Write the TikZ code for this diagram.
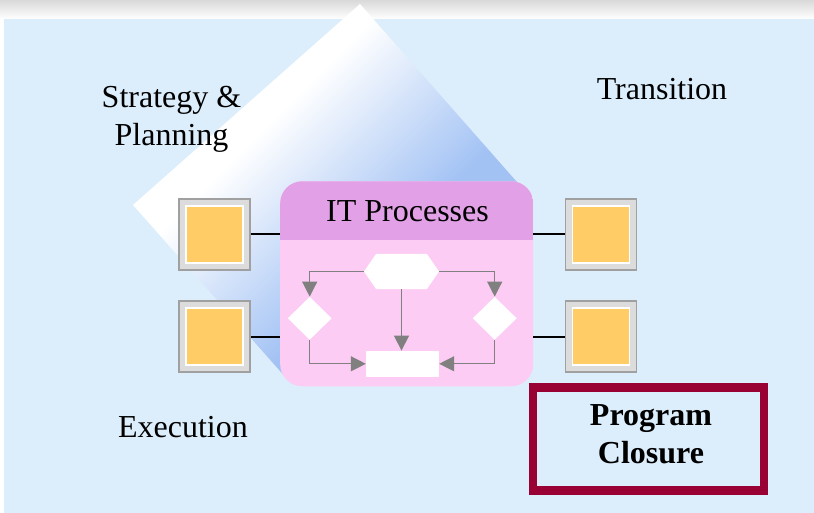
\documentclass[tikz,border=0pt]{standalone}
\usepackage{fontspec}
\setmainfont{Liberation Serif}
\usetikzlibrary{shapes.geometric,shapes.symbols,arrows.meta}

\definecolor{bgblue}{RGB}{220,238,252}
\definecolor{diagblue}{RGB}{162,194,244}
\definecolor{hdrpurple}{RGB}{226,160,230}
\definecolor{bodypink}{RGB}{252,204,244}
\definecolor{tileorange}{RGB}{255,204,102}
\definecolor{tilegray}{RGB}{220,220,220}
\definecolor{edgegray}{RGB}{160,160,160}
\definecolor{flowgray}{RGB}{128,128,128}
\definecolor{closured}{RGB}{153,0,51}

\pgfdeclareverticalshading{diagfade}{100bp}{color(0bp)=(diagblue); color(39bp)=(diagblue); color(62bp)=(white); color(100bp)=(white)}

\tikzset{
	label text/.style={font=\fontsize{32}{37.5}\selectfont, inner sep=0pt},
	tile/.style={draw=edgegray, fill=tilegray, line width=1.3pt, minimum size=71pt, inner sep=0pt},
	tile core/.style={draw=white, fill=tileorange, line width=1.2pt, minimum size=57pt, inner sep=0pt},
	itbox/.style={fill=bodypink, rounded corners=22pt, minimum width=253pt, minimum height=205pt, inner sep=0pt,
		path picture={\fill[hdrpurple, sharp corners] (path picture bounding box.north west) rectangle ([yshift=-59pt]path picture bounding box.north east);}},
	link/.style={line width=2pt},
	flowshape/.style={fill=white, inner sep=0pt},
	flow/.style={draw=flowgray, line width=1.3pt, -{Triangle[length=15pt,width=15pt]}},
	closure/.style={draw=closured, line width=8.3pt, minimum width=231pt, minimum height=103pt, inner sep=0pt}
}

\begin{document}
\begin{tikzpicture}[x=1pt, y=-1pt]
	\useasboundingbox (0,0) rectangle (814,513);
	% Hintergrund
	\fill[white] (0,0) rectangle (814,513);
	\shade[top color=gray!30, bottom color=white] (0,0) rectangle (814,19);
	\fill[bgblue] (4,19) rectangle (814,513);
	% schraeges Quadrat
	\shade[shading=diagfade, shading angle=45]
		(360,4) -- (133,205) -- (288,380) -- (524,190) -- cycle;
	% Kaesten links und rechts
	\foreach \name/\x/\y in {tl/214.5/234.5, bl/214.5/336.5, tr/601/234.5, br/601/336.5}
		\node[tile] (\name) at (\x,\y) {};
	\foreach \name in {tl,bl,tr,br}
		\node[tile core] at (\name) {};
	% IT Prozesse
	\node[itbox] (itp) at (406.7,283.8) {};
	\node[label text, anchor=base] (ittitle) at (407.5,221.7) {IT Processes};
	\draw[link] (tl) -- (tl -| itp.west);
	\draw[link] (bl) -- (bl -| itp.west);
	\draw[link] (tr) -- (tr -| itp.east);
	\draw[link] (br) -- (br -| itp.east);
	% Ablauf
	\node[flowshape, signal, signal to=west and east, signal pointer angle=111,
		minimum width=75pt, minimum height=35pt] (hex) at (401.5,271.5) {};
	\node[flowshape, diamond, minimum width=44pt, minimum height=43pt] (ldec) at (309.7,318.3) {};
	\node[flowshape, diamond, minimum width=44pt, minimum height=43pt] (rdec) at (494.7,318.3) {};
	\node[flowshape, minimum width=73pt, minimum height=26pt] (task) at (402.5,363.8) {};
	\draw[flow] (hex.west) -| (ldec.north);
	\draw[flow] (hex.east) -| (rdec.north);
	\draw[flow] (hex.south) -- (hex.south |- task.north);
	\draw[flow] (ldec.south) |- (task.west);
	\draw[flow] (rdec.south) |- (task.east);
	% Phasen
	\node[label text, align=center] (strat) at (171.5,119.3) {Strategy \&\\Planning};
	\node[label text, anchor=base] (trans) at (662,100) {Transition};
	\node[label text, anchor=base] (exec) at (183,437) {Execution};
	\node[closure] (pc) at (648.7,439) {};
	\node[font=\fontsize{32}{37.7}\selectfont\bfseries, inner sep=0pt, align=center] (pclabel) at (651,434.5) {Program\\Closure};
\end{tikzpicture}
\end{document}
